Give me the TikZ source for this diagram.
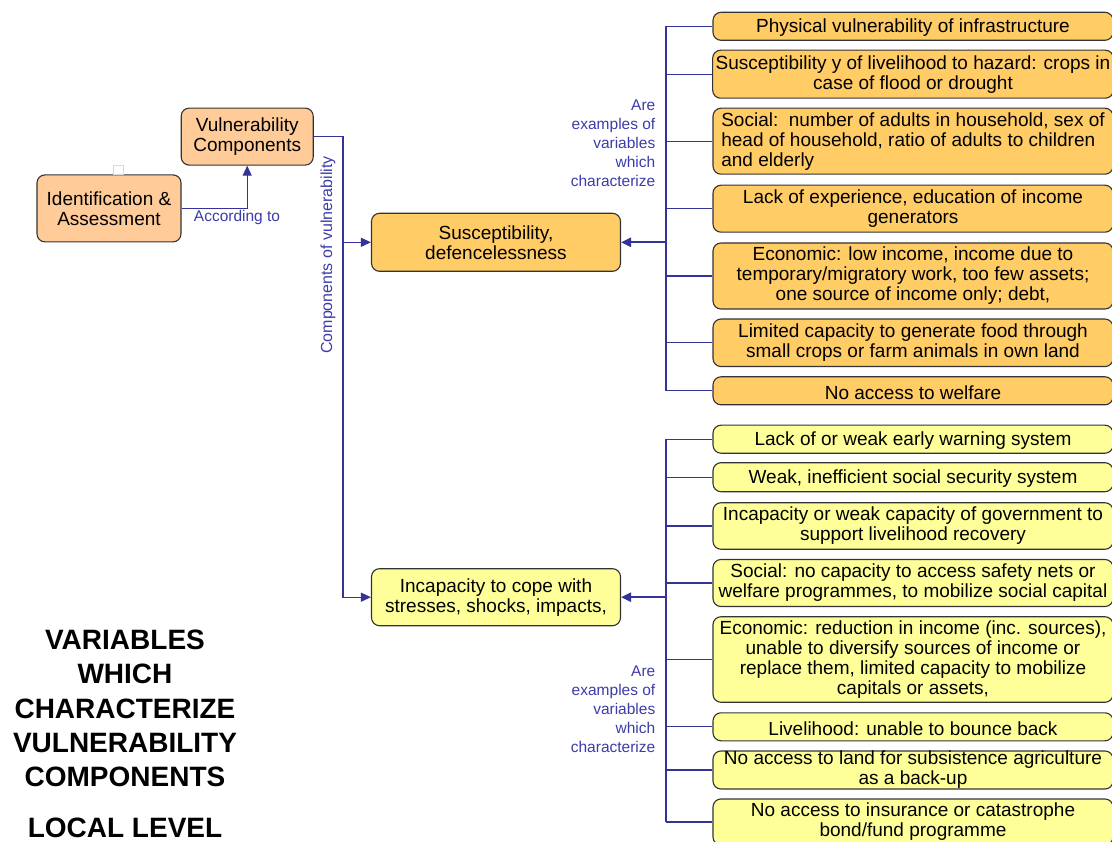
\documentclass[tikz,border=0pt]{standalone}
\usepackage{fontspec}
\setmainfont{Liberation Sans}
\usetikzlibrary{arrows.meta}

\definecolor{peach}{RGB}{255,204,153}
\definecolor{amber}{RGB}{255,204,102}
\definecolor{paleyellow}{RGB}{255,255,153}
\definecolor{linkblue}{RGB}{51,51,153}
\definecolor{labelblue}{RGB}{60,60,170}

\newcommand{\boxfont}{\fontsize{19}{20}\selectfont}
\newcommand{\lblfont}{\fontsize{15.5}{19.2}\selectfont}
\newcommand{\titlefont}{\fontsize{28}{34}\selectfont\bfseries}

\begin{document}
\begin{tikzpicture}[x=1pt,y=-1pt,
  box/.style={draw=black!80, line width=1.1pt, rounded corners=8pt,
    inner xsep=3pt, inner ysep=0pt, align=center, font=\boxfont, text=black,
    execute at begin node={\rule{0pt}{17pt}}},
  topbox/.style={box, fill=peach},
  suscbox/.style={box, fill=amber},
  copebox/.style={box, fill=paleyellow},
  itembox/.style={box, minimum width=400pt},
  lbl/.style={text=labelblue, font=\lblfont, inner sep=0pt},
  link/.style={draw=linkblue, line width=1.1pt},
  boldlink/.style={draw=linkblue, line width=2.4pt},
  tip/.style={-{Triangle[length=10pt,width=9pt]}},
  title/.style={anchor=base, font=\titlefont, text=black, inner sep=0pt}]

\useasboundingbox (0,0) rectangle (1112,842);
\clip (0,0) rectangle (1112,842);

% ---- left part: assessment and components
\node[topbox, minimum width=144pt, minimum height=67pt] (ident) at (109,208.4) {Identification \&\\Assessment};
\node[topbox, minimum width=132pt, minimum height=57pt] (vuln) at (247.2,136.6) {Vulnerability\\Components};
\draw[black!15, line width=0.8pt] (113.5,165) rectangle (123,174.5);

\node[suscbox, minimum width=249pt, minimum height=58pt] (susc) at (496,242.3) {Susceptibility,\\defencelessness};
\node[copebox, minimum width=249pt, minimum height=57pt] (cope) at (496,597.2) {Incapacity to cope with\\stresses, shocks, impacts,};

\draw[link, tip] (ident.east) -| (vuln.south);
\node[lbl] (according) at (237,217.5) {According to};

\coordinate (lt) at (343,0);
\draw[link, tip] (vuln.east) -- (lt |- vuln.east) -- (lt |- cope.west) -- (cope.west);
\draw[link, tip] (lt |- susc.west) -- (susc.west);
\node[lbl, rotate=90, font=\fontsize{16}{19}\selectfont] (compof) at (328,255) {Components of vulnerability};

% ---- examples of susceptibility
\begin{scope}[every node/.append style={itembox, suscbox}]
\node[minimum height=28pt] (u1) at (913,26.3) {Physical vulnerability of infrastructure};
\node[minimum height=48pt] (u2) at (913,74.2) {Susceptibility y of livelihood to hazard: crops in\\case of flood or drought};
\node[minimum height=66pt, align=left] (u3) at (913,141.2) {Social:\ \ number of adults in household, sex of\\head of household, ratio of adults to children\\and elderly};
\node[minimum height=47pt] (u4) at (913,208.7) {Lack of experience, education of income\\generators};
\node[minimum height=66pt] (u5) at (913,276) {Economic: low income, income due to\\temporary/migratory work, too few assets;\\one source of income only; debt,};
\node[minimum height=47.5pt] (u6) at (913,342.8) {Limited capacity to generate food through\\small crops or farm animals in own land};
\node[minimum height=28pt] (u7) at (913,390.8) {No access to welfare};
\end{scope}

% ---- examples of incapacity to cope
\begin{scope}[every node/.append style={itembox, copebox}]
\node[minimum height=28pt] (l1) at (913,439.2) {Lack of or weak early warning system};
\node[minimum height=29pt] (l2) at (913,477.2) {Weak, inefficient social security system};
\node[minimum height=46.5pt] (l3) at (913,526) {Incapacity or weak capacity of government to\\support livelihood recovery};
\node[minimum height=47pt] (l4) at (913,583) {Social: no capacity to access safety nets or\\welfare programmes, to mobilize social capital};
\node[minimum height=85.5pt] (l5) at (913,659.5) {Economic: reduction in income (inc. sources),\\unable to diversify sources of income or\\replace them, limited capacity to mobilize\\capitals or assets,};
\node[minimum height=28pt] (l6) at (913,726.8) {Livelihood: unable to bounce back};
\node[minimum height=38pt] (l7) at (913,770) {No access to land for subsistence agriculture\\as a back-up};
\node[minimum height=46pt] (l8) at (913,822) {No access to insurance or catastrophe\\bond/fund programme};
\end{scope}

% ---- trunks joining the examples
\coordinate (rt) at (666,0);
\draw[link] (rt |- u1.west) -- (rt |- u7.west);
\foreach \b in {u1,u2,u3,u4,u5,u6,u7}
  \draw[link] (rt |- \b.west) -- (\b.west);
\draw[boldlink, tip] (rt |- susc.east) -- (susc.east);

\draw[link] (rt |- l1.west) -- (rt |- l8.west);
\foreach \b in {l1,l2,l3,l4,l5,l6,l7,l8}
  \draw[link] (rt |- \b.west) -- (\b.west);
\draw[boldlink, tip] (rt |- cope.east) -- (cope.east);

\node[lbl, align=right, anchor=east] (exa) at (655.5,143.3) {Are\\examples of\\variables\\which\\characterize};
\node[lbl, align=right, anchor=east] (exb) at (655.5,709.3) {Are\\examples of\\variables\\which\\characterize};

% ---- heading
\node[title] (t1) at (125,649.5) {VARIABLES};
\node[title] (t2) at (125,683.8) {WHICH};
\node[title] (t3) at (125,718.1) {CHARACTERIZE};
\node[title] (t4) at (125,752.4) {VULNERABILITY};
\node[title] (t5) at (125,786.7) {COMPONENTS};
\node[title] (t6) at (125,837.5) {LOCAL LEVEL};
\end{tikzpicture}
\end{document}
